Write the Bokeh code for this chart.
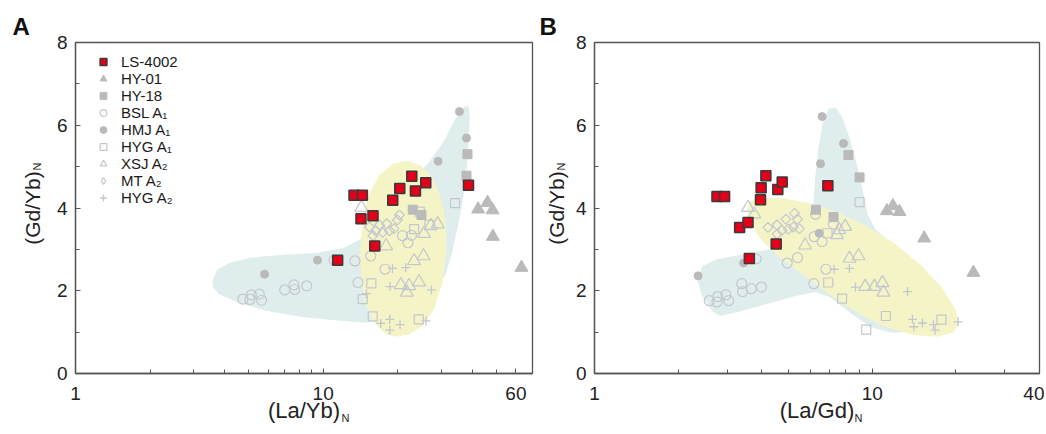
import math
from bokeh.plotting import figure
from bokeh.models import Range1d, FixedTicker, PrintfTickFormatter, Title, Legend, LegendItem
from bokeh.layouts import row
from bokeh.embed import file_html
from bokeh.resources import INLINE

# ---------------- data ----------------
series_names = ["LS-4002", "HY-01", "HY-18", "BSL A\u2081", "HMJ A\u2081", "HYG A\u2081",
                "XSJ A\u2082", "MT A\u2082", "HYG A\u2082"]

# (Gd/Yb)N vs (La/Yb)N  -- panel A
ls_a_x = [13.32, 14.40, 14.21, 15.89, 16.15, 11.44, 19.09, 20.38, 22.79, 23.58, 25.95, 38.61]
ls_a_y = [4.31, 4.31, 3.74, 3.81, 3.08, 2.74, 4.19, 4.47, 4.77, 4.41, 4.61, 4.55]
hy01_a_x = [42.22, 46.07, 48.28, 48.41, 63.2]
hy01_a_y = [3.97, 4.13, 3.95, 3.31, 2.56]
hy18_a_x = [38.25, 37.90, 23.0, 24.93]
hy18_a_y = [5.30, 4.78, 3.96, 3.83]
bsl_a_x = [4.74, 5.06, 5.13, 5.52, 5.64, 6.99, 7.62, 7.67, 8.58, 11.06, 13.44, 15.56, 13.82, 17.77, 20.89, 22.0, 22.72]
bsl_a_y = [1.80, 1.79, 1.90, 1.92, 1.77, 2.02, 2.14, 2.03, 2.12, 2.74, 2.72, 2.84, 2.20, 2.52, 3.33, 3.16, 3.34]
hmj_a_x = [35.5, 37.9, 29.1, 9.48, 5.80]
hmj_a_y = [6.33, 5.69, 5.13, 2.74, 2.40]
hyga1_a_x = [34.08, 23.28, 26.86, 15.65, 14.44, 15.85, 24.31, 24.54]
hyga1_a_y = [4.12, 3.49, 3.59, 2.18, 1.80, 1.38, 1.31, 3.91]
xsj_a_x = [14.27, 17.94, 23.28, 25.41, 20.57, 22.22, 24.38, 21.75, 25.55, 29.01, 27.19]
xsj_a_y = [4.01, 3.08, 2.72, 2.84, 2.14, 2.12, 2.21, 1.96, 3.38, 3.61, 3.57]
mt_a_x = [15.37, 15.89, 16.87, 17.40, 18.06, 18.51, 19.32, 19.94, 20.32, 16.30]
mt_a_y = [3.54, 3.33, 3.59, 3.41, 3.62, 3.45, 3.50, 3.71, 3.83, 3.45]
hyga2_a_x = [19.04, 21.54, 18.62, 27.36, 14.95, 17.07, 18.57, 18.57, 20.43, 26.03]
hyga2_a_y = [2.54, 2.56, 2.10, 2.02, 1.93, 1.21, 1.31, 1.05, 1.18, 1.27]

# (Gd/Yb)N vs (La/Gd)N  -- panel B
ls_b_x = [2.76, 2.94, 3.33, 3.57, 3.96, 3.98, 4.14, 4.57, 4.74, 4.51, 3.61, 6.92]
ls_b_y = [4.28, 4.28, 3.53, 3.65, 4.20, 4.49, 4.78, 4.45, 4.63, 3.13, 2.78, 4.54]
hy01_b_x = [11.29, 11.87, 12.53, 15.38, 23.13]
hy01_b_y = [3.93, 4.05, 3.91, 3.27, 2.44]
hy18_b_x = [8.21, 9.0, 6.27, 7.25]
hy18_b_y = [5.28, 4.74, 3.96, 3.78]
bsl_b_x = [2.59, 2.76, 2.78, 2.97, 3.04, 3.39, 3.41, 3.67, 3.99, 3.82, 4.94, 5.38, 6.16, 6.18, 6.60, 6.25, 6.81, 7.25]
bsl_b_y = [1.76, 1.73, 1.86, 1.90, 1.76, 2.17, 1.98, 2.05, 2.09, 2.77, 2.67, 2.80, 2.17, 3.31, 3.19, 3.85, 2.52, 3.61]
hmj_b_x = [6.60, 7.88, 6.51, 6.44, 3.44, 2.36]
hmj_b_y = [6.21, 5.56, 5.07, 3.39, 2.67, 2.36]
hyga1_b_x = [9.0, 6.90, 6.94, 7.79, 11.19, 9.51, 17.75]
hyga1_b_y = [4.14, 3.39, 2.20, 1.81, 1.39, 1.06, 1.30]
xsj_b_x = [3.57, 3.76, 5.73, 7.46, 7.60, 7.99, 8.28, 8.92, 9.43, 10.18, 10.88, 10.97]
xsj_b_y = [4.01, 3.85, 3.10, 3.35, 3.47, 3.55, 2.78, 2.84, 2.10, 2.10, 2.19, 1.96]
mt_b_x = [4.21, 4.54, 4.54, 4.73, 4.89, 4.99, 5.20, 5.25, 5.38, 5.46]
mt_b_y = [3.53, 3.59, 3.37, 3.46, 3.73, 3.49, 3.54, 3.87, 3.73, 3.50]
hyga2_b_x = [7.29, 8.28, 8.70, 13.39, 13.95, 14.12, 15.16, 16.61, 16.84, 20.38]
hyga2_b_y = [2.52, 2.54, 2.09, 1.98, 1.31, 1.13, 1.22, 1.18, 1.05, 1.25]

# field outlines
teal_a_x = [3.57, 3.74, 4.23, 5.09, 6.94, 9.48, 12.13, 14.17, 16.04, 26.36, 30.77, 33.77, 37.06, 38.61,
            39.08, 38.46, 37.30, 35.38, 33.27, 31.26, 28.03, 17.61, 14.62, 11.06, 8.11, 5.95, 4.50, 3.79, 3.60]
teal_a_y = [2.24, 2.52, 2.68, 2.80, 2.87, 2.92, 3.04, 3.25, 3.93, 5.06, 5.62, 6.10, 6.44, 6.47,
            6.18, 5.38, 4.49, 3.69, 2.96, 2.40, 1.92, 1.27, 1.23, 1.29, 1.37, 1.51, 1.72, 1.92, 2.08]
yellow_a_x = [21.88, 19.04, 16.81, 15.31, 14.48, 14.08, 14.27, 14.85, 16.04, 17.89, 19.94, 22.22,
              25.17, 28.03, 30.31, 31.46, 31.26, 29.84, 27.61, 24.77]
yellow_a_y = [5.14, 5.06, 4.78, 4.33, 3.77, 2.96, 2.24, 1.68, 1.23, 0.95, 0.89, 0.95,
              1.15, 1.56, 2.20, 2.96, 3.69, 4.25, 4.73, 5.03]
teal_b_x = [2.35, 2.44, 2.76, 3.54, 4.41, 5.98, 6.11, 6.23, 6.40, 6.64, 6.96, 7.36, 7.77, 8.28, 8.80,
            9.25, 9.61, 10.24, 11.44, 12.60, 13.32, 12.78, 11.60, 9.83, 8.33, 7.05, 6.23, 5.35, 4.17,
            3.35, 2.84, 2.65, 2.44]
teal_b_y = [2.24, 2.60, 2.76, 2.90, 3.02, 3.21, 3.93, 4.73, 5.46, 6.06, 6.39, 6.43, 6.22, 5.70, 5.06,
            4.41, 3.85, 3.49, 3.21, 2.96, 2.08, 0.99, 0.99, 1.13, 1.47, 1.84, 1.97, 1.88, 1.68,
            1.50, 1.39, 1.51, 1.88]
yellow_b_x = [3.63, 4.01, 4.66, 5.82, 7.25, 9.30, 11.92, 14.87, 17.81, 19.88, 20.60, 19.60, 17.09,
              14.07, 11.29, 9.05, 7.25, 5.82, 4.66, 3.95, 3.61, 3.54]
yellow_b_y = [4.17, 4.25, 4.24, 4.13, 3.93, 3.61, 3.16, 2.64, 2.08, 1.56, 1.21, 0.99, 0.89,
              0.93, 1.11, 1.43, 1.84, 2.32, 2.80, 3.25, 3.69, 3.97]

# ---------------- styles ----------------
FONT = "Liberation Sans"
AX = "#555555"
TXT = "#222222"
TEAL = "#dfeeec"
YELLOW = "#f4f4c6"
HOLLOW = "#c4c7cf"
GRAY = "#bababa"
RED = "#e3001b"


def make_panel(xmax, xmajor, xminor, width, mbl, mbr, d, teal, yellow,
               xlab, ylab_standoff, xn_offset, letter, letter_offset, legend=False):
    p = figure(x_axis_type="log", x_range=Range1d(1, xmax), y_range=Range1d(0, 8),
               width=width, height=432, min_border_left=mbl, min_border_right=mbr,
               min_border_top=42, min_border_bottom=59, title=None,
               output_backend="svg", toolbar_location=None)
    p.xgrid.visible = False
    p.ygrid.visible = False
    p.outline_line_color = AX
    p.outline_line_width = 1.3
    p.background_fill_color = "white"
    p.border_fill_color = "white"

    p.xaxis.ticker = FixedTicker(ticks=xmajor, minor_ticks=xminor)
    p.xaxis.formatter = PrintfTickFormatter(format="%d")
    p.yaxis.ticker = FixedTicker(ticks=[0, 2, 4, 6, 8], minor_ticks=[1, 3, 5, 7])
    for ax in (p.xaxis[0], p.yaxis[0]):
        ax.axis_line_color = AX
        ax.axis_line_width = 1.3
        ax.major_tick_line_color = AX
        ax.minor_tick_line_color = AX
        ax.major_tick_in = 5
        ax.major_tick_out = 0
        ax.minor_tick_in = 4
        ax.minor_tick_out = 0
        ax.major_label_text_font = FONT
        ax.major_label_text_font_size = "19px"
        ax.major_label_text_color = TXT
        ax.axis_label_text_font = FONT
        ax.axis_label_text_font_style = "normal"
        ax.axis_label_text_color = TXT
    p.xaxis.major_label_standoff = 13
    p.yaxis.major_label_standoff = 8
    p.xaxis.axis_label = xlab
    p.xaxis.axis_label_text_font_size = "22px"
    p.xaxis.axis_label_standoff = -5
    p.yaxis.axis_label = "(Gd/Yb)"
    p.yaxis.axis_label_text_font_size = "21px"
    p.yaxis.axis_label_standoff = ylab_standoff

    # subscript N of the axis titles and the panel letter
    p.add_layout(Title(text="N", align="left", offset=xn_offset, standoff=-28, vertical_align="top",
                       text_font=FONT, text_font_size="11px", text_font_style="normal",
                       text_color=TXT), "below")
    p.add_layout(Title(text="N", align="left", offset=203, standoff=-51, vertical_align="bottom",
                       text_font=FONT, text_font_size="11px", text_font_style="normal",
                       text_color=TXT), "left")
    p.add_layout(Title(text=letter, align="left", offset=letter_offset, standoff=6,
                       vertical_align="bottom", text_font=FONT, text_font_size="24px",
                       text_font_style="bold", text_color="#111111"), "above")

    p.patch(teal[0], teal[1], fill_color=TEAL, line_color=None)
    p.patch(yellow[0], yellow[1], fill_color=YELLOW, line_color=None)

    r = {}
    r["BSL"] = p.scatter(d["bsl"][0], d["bsl"][1], marker="circle", size=10,
                         fill_color=None, line_color=HOLLOW, line_width=1.2)
    r["HYGA1"] = p.scatter(d["hyga1"][0], d["hyga1"][1], marker="square", size=9,
                           fill_color=None, line_color=HOLLOW, line_width=1.2)
    r["XSJ"] = p.scatter(d["xsj"][0], d["xsj"][1], marker="triangle", size=13,
                         fill_color=None, line_color=HOLLOW, line_width=1.2)
    p.scatter(d["mt"][0], d["mt"][1], marker="square", size=7, angle=math.pi / 4,
              fill_color=None, line_color=HOLLOW, line_width=1.2)
    r["HYGA2"] = p.scatter(d["hyga2"][0], d["hyga2"][1], marker="cross", size=9,
                           line_color=HOLLOW, line_width=1.3)
    r["HMJ"] = p.scatter(d["hmj"][0], d["hmj"][1], marker="circle", size=8,
                         fill_color=GRAY, line_color=GRAY)
    r["HY18"] = p.scatter(d["hy18"][0], d["hy18"][1], marker="square", size=9,
                          fill_color=GRAY, line_color=GRAY)
    r["HY01"] = p.scatter(d["hy01"][0], d["hy01"][1], marker="triangle", size=13,
                          fill_color=GRAY, line_color=GRAY)
    r["LS"] = p.scatter(d["ls"][0], d["ls"][1], marker="square", size=10,
                        fill_color=RED, line_color="#3a3a3a", line_width=1.5)

    if legend:
        # hidden diamond-marker copy of the MT A2 series, used only for its legend swatch
        r["MT"] = p.scatter(d["mt"][0], d["mt"][1], marker="diamond", size=10,
                            fill_color=None, line_color=HOLLOW, line_width=1.2, visible=False)
        keys = ["LS", "HY01", "HY18", "BSL", "HMJ", "HYGA1", "XSJ", "MT", "HYGA2"]
        items = [LegendItem(label=n, renderers=[r[k]]) for n, k in zip(series_names, keys)]
        lg = Legend(items=items, location=(18, 167), padding=0, margin=0, spacing=0,
                    glyph_width=20, glyph_height=17, label_height=17, label_standoff=8,
                    label_text_font=FONT, label_text_font_size="15px", label_text_color="#1a1a1a",
                    border_line_color=None, background_fill_color=None, background_fill_alpha=0)
        p.add_layout(lg)
    return p


data_a = {"ls": (ls_a_x, ls_a_y), "hy01": (hy01_a_x, hy01_a_y), "hy18": (hy18_a_x, hy18_a_y),
          "bsl": (bsl_a_x, bsl_a_y), "hmj": (hmj_a_x, hmj_a_y), "hyga1": (hyga1_a_x, hyga1_a_y),
          "xsj": (xsj_a_x, xsj_a_y), "mt": (mt_a_x, mt_a_y), "hyga2": (hyga2_a_x, hyga2_a_y)}
data_b = {"ls": (ls_b_x, ls_b_y), "hy01": (hy01_b_x, hy01_b_y), "hy18": (hy18_b_x, hy18_b_y),
          "bsl": (bsl_b_x, bsl_b_y), "hmj": (hmj_b_x, hmj_b_y), "hyga1": (hyga1_b_x, hyga1_b_y),
          "xsj": (xsj_b_x, xsj_b_y), "mt": (mt_b_x, mt_b_y), "hyga2": (hyga2_b_x, hyga2_b_y)}

pA = make_panel(70, [1, 10, 60], [2, 3, 4, 5, 6, 7, 8, 9, 20, 30, 40, 50, 60], 540, 75, 8,
                data_a, (teal_a_x, teal_a_y), (yellow_a_x, yellow_a_y),
                "(La/Yb)", 10, 266, "A", -63, legend=True)
pB = make_panel(40, [1, 10, 40], [2, 3, 4, 5, 6, 7, 8, 9, 20, 30], 504, 54, 5,
                data_b, (teal_b_x, teal_b_y), (yellow_b_x, yellow_b_y),
                "(La/Gd)", 5, 260, "B", -55)

layout = row(pA, pB)
open("out.html", "w").write(file_html(layout, INLINE))
